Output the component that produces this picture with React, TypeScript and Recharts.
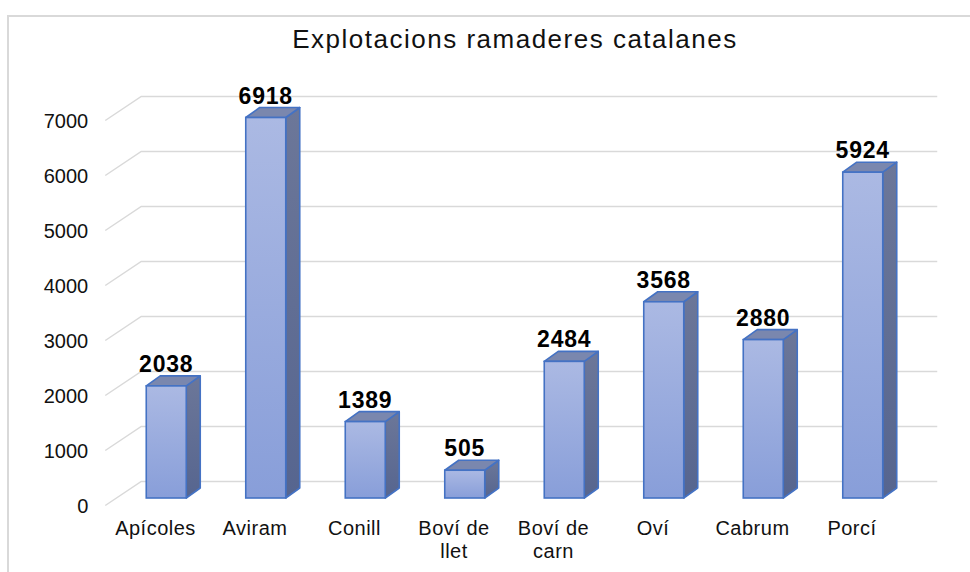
import { BarChart, Bar, XAxis, YAxis, CartesianGrid, LabelList } from "recharts"

const categories = ["Apícoles", "Aviram", "Conill", "Boví de llet", "Boví de carn", "Oví", "Cabrum", "Porcí"]
const explotacions = [2038, 6918, 1389, 505, 2484, 3568, 2880, 5924]
const yTicks = [0, 1000, 2000, 3000, 4000, 5000, 6000, 7000]

const data = categories.map((c, i) => ({ name: c, value: explotacions[i] }))

const FONT = "'Liberation Sans', Arial, sans-serif"
const DX = 14
const DY = 10

function Bar3D(props: any) {
  const { x, y, width: w, height: h } = props
  if (h == null || w == null) return null
  const stroke = "#4472c4"
  return (
    <g>
      <polygon
        points={`${x + w},${y} ${x + w + DX},${y - DY} ${x + w + DX},${y + h - DY} ${x + w},${y + h}`}
        fill="url(#sideGrad)"
        stroke={stroke}
        strokeWidth={1.6}
        strokeLinejoin="round"
      />
      <polygon
        points={`${x},${y} ${x + DX},${y - DY} ${x + w + DX},${y - DY} ${x + w},${y}`}
        fill="#7a87ae"
        stroke={stroke}
        strokeWidth={1.6}
        strokeLinejoin="round"
      />
      <rect x={x} y={y} width={w} height={h} fill="url(#frontGrad)" stroke={stroke} strokeWidth={1.6} />
    </g>
  )
}

function GridLine(props: any) {
  const { x1, x2, y1, index } = props
  return (
    <path
      key={"g" + index}
      d={`M${x1 - 11},${y1 + 7.5} L${x1 + 25},${y1 - 16.5} L${x2 + 25},${y1 - 16.5}`}
      fill="none"
      stroke="#d9d9d9"
      strokeWidth={1.5}
    />
  )
}

function YTick(props: any) {
  const { x, y, payload } = props
  return (
    <text x={x} y={y + 7.5} textAnchor="end" dominantBaseline="central" fontFamily={FONT} fontSize={20} fill="#111">
      {payload.value}
    </text>
  )
}

function XTick(props: any) {
  const { x, y, payload } = props
  const lines = String(payload.value).replace(" de ", " de\n").split("\n")
  return (
    <text x={x - 10.5} y={y + 37} textAnchor="middle" fontFamily={FONT} fontSize={20} letterSpacing={0.5} fill="#111">
      {lines.map((l, i) => (
        <tspan key={i} x={x - 10.5} dy={i === 0 ? 0 : 22.5}>
          {l}
        </tspan>
      ))}
    </text>
  )
}

function ValueLabel(props: any) {
  const { x, y, width, value } = props
  return (
    <text
      x={x + width / 2}
      y={y - 14}
      textAnchor="middle"
      fontFamily={FONT}
      fontSize={23}
      fontWeight="bold"
      letterSpacing={0.8}
      fill="#000"
    >
      {value}
    </text>
  )
}

export default function App() {
  return (
    <div style={{ position: "absolute", left: 0, top: 0, width: 970, height: 572, overflow: "hidden", background: "#fff" }}>
      <div
        style={{
          position: "absolute",
          left: 7,
          top: 15,
          width: 980,
          height: 600,
          borderLeft: "2px solid #d9d9d9",
          borderTop: "2px solid #d9d9d9",
        }}
      />
      <div
        style={{
          position: "absolute",
          left: 215,
          top: 26,
          width: 600,
          textAlign: "center",
          fontFamily: FONT,
          fontSize: 26,
          lineHeight: "26px",
          letterSpacing: 1.5,
          color: "#111",
        }}
      >
        Explotacions ramaderes catalanes
      </div>
      <div style={{ position: "absolute", left: 0, top: 0 }}>
        <BarChart width={970} height={572} data={data} margin={{ top: 113, right: 57.75, bottom: 44, left: 86.25 }}>
          <defs>
            <linearGradient id="frontGrad" x1="0" y1="0" x2="0" y2="1">
              <stop offset="0%" stopColor="#abb9e3" />
              <stop offset="100%" stopColor="#889ed9" />
            </linearGradient>
            <linearGradient id="sideGrad" x1="0" y1="0" x2="0" y2="1">
              <stop offset="0%" stopColor="#6c7799" />
              <stop offset="100%" stopColor="#56658f" />
            </linearGradient>
          </defs>
          <CartesianGrid vertical={false} horizontal={(p: any) => <GridLine {...p} />} />
          <XAxis
            dataKey="name"
            height={30}
            axisLine={false}
            tickLine={false}
            tickSize={0}
            tickMargin={0}
            interval={0}
            tick={(p: any) => <XTick {...p} />}
          />
          <YAxis
            width={30}
            domain={[0, 7000]}
            ticks={yTicks}
            axisLine={false}
            tickLine={false}
            tickSize={0}
            tickMargin={28}
            tick={(p: any) => <YTick {...p} />}
          />
          <Bar dataKey="value" barSize={40} isAnimationActive={false} shape={(p: any) => <Bar3D {...p} />}>
            <LabelList dataKey="value" content={(p: any) => <ValueLabel {...p} />} />
          </Bar>
        </BarChart>
      </div>
    </div>
  )
}
